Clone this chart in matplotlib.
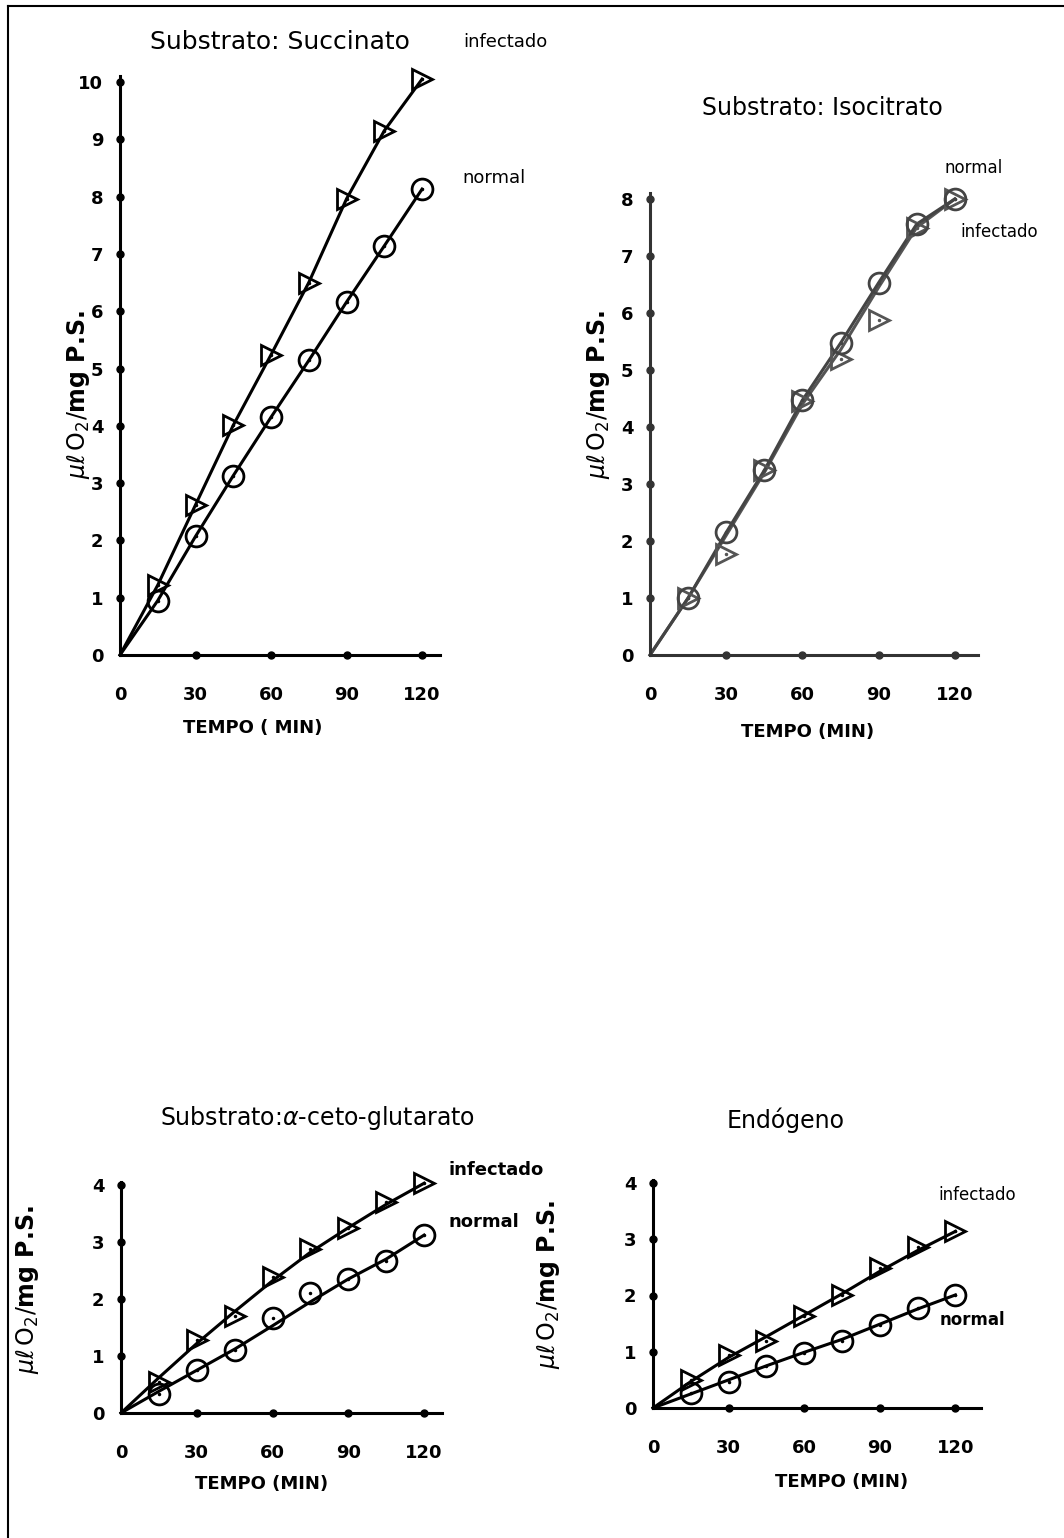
import numpy as np
import matplotlib
matplotlib.use("Agg")
from matplotlib import pyplot as plt
from matplotlib.lines import Line2D

# Figure size in pixels
W, H = 1064, 1538

# Time points (min)
tempo = [0, 15, 30, 45, 60, 75, 90, 105, 120]
xticks = [0, 30, 60, 90, 120]

# Substrato: Succinato
succ_inf = [0, 1.22, 2.62, 4.01, 5.24, 6.5, 7.96, 9.15, 10.05]
succ_norm = [0, 0.95, 2.07, 3.13, 4.15, 5.14, 6.16, 7.14, 8.13]

# Substrato: Isocitrato
iso_norm = [0, 1.0, 2.15, 3.24, 4.47, 5.47, 6.53, 7.56, 8.0]
iso_inf = [0, 1.0, 1.78, 3.24, 4.45, 5.2, 5.88, 7.5, 8.0]
iso_inf_line = [0, 1.0, 2.1, 3.2, 4.4, 5.35, 6.45, 7.5, 8.0]   # drawn line (skips outliers)

# Substrato: alfa-ceto-glutarato
ceto_inf = [0, 0.55, 1.28, 1.7, 2.39, 2.87, 3.25, 3.7, 4.03]
ceto_inf_line = [0, 0.62, 1.22, 1.78, 2.32, 2.82, 3.25, 3.66, 4.03]
ceto_norm = [0, 0.33, 0.75, 1.1, 1.66, 2.1, 2.35, 2.67, 3.12]
ceto_norm_line = [0, 0.38, 0.75, 1.12, 1.53, 1.95, 2.35, 2.7, 3.12]

# Endogeno
endo_inf = [0, 0.5, 0.95, 1.19, 1.63, 2.01, 2.49, 2.87, 3.14]
endo_inf_line = [0, 0.47, 0.9, 1.27, 1.65, 2.03, 2.43, 2.8, 3.14]
endo_norm = [0, 0.27, 0.47, 0.74, 0.98, 1.19, 1.48, 1.78, 2.01]
endo_norm_line = [0, 0.25, 0.5, 0.75, 0.99, 1.22, 1.49, 1.76, 2.01]

YLABEL = r"$\mu\ell\,\mathrm{O_2}/$mg P.S."

fig = plt.figure(figsize=(W / 100, H / 100), dpi=100)


def ptext(x, y, s, **kw):
    # place text using pixel coordinates of the page
    fig.text(x / W, 1 - y / H, s, **kw)


def panel(x0, y0, pxm, pxu, xmax, ymax, yticks, color="black"):
    # x0, y0: pixel position of the origin; pxm, pxu: pixels per minute / per unit
    ax = fig.add_axes([x0 / W, 1 - y0 / H, xmax * pxm / W, ymax * pxu / H])
    ax.set_xlim(0, xmax)
    ax.set_ylim(0, ymax)
    for s in ["top", "right"]:
        ax.spines[s].set_visible(False)
    for s in ["left", "bottom"]:
        ax.spines[s].set_linewidth(2.2)
        ax.spines[s].set_color(color)
    ax.set_xticks(xticks)
    ax.set_yticks(yticks)
    ax.tick_params(length=0, labelsize=13)
    ax.tick_params(axis="x", pad=22)
    ax.tick_params(axis="y", pad=12)
    for lab in ax.get_xticklabels() + ax.get_yticklabels():
        lab.set_fontweight("bold")
    ax.set_facecolor("none")
    # dots along the axes at each tick
    ax.plot(xticks[1:], np.zeros(len(xticks) - 1), "o", color=color, ms=5, clip_on=False, zorder=4)
    ax.plot(np.zeros(len(yticks) - 1), yticks[1:], "o", color=color, ms=5, clip_on=False, zorder=4)
    return ax


def series(ax, y, marker, color="black", line=None):
    if line is None:
        line = y
    ax.plot(tempo, line, color=color, lw=2.2, clip_on=False, zorder=2)
    ax.plot(tempo[1:], y[1:], marker, ms=15, mfc="none", mec=color, mew=2.0,
            clip_on=False, zorder=3)
    ax.plot(tempo[1:], y[1:], ".", ms=3, color=color, clip_on=False, zorder=3)


# --- Panel 1: Succinato
ax1 = panel(120, 655, 2.517, 57.3, 127, 10.1, list(range(0, 11)))
series(ax1, succ_inf, ">")
series(ax1, succ_norm, "o")
ptext(280, 42, "Substrato: Succinato", fontsize=18, ha="center", va="center")
ptext(463, 42, "infectado", fontsize=13, va="center")
ptext(462, 178, "normal", fontsize=13, va="center")
ptext(253, 728, "TEMPO ( MIN)", fontsize=13, fontweight="bold", ha="center", va="center")
ptext(78, 395, YLABEL, fontsize=17, fontweight="bold", rotation=90, ha="center", va="center")

# --- Panel 2: Isocitrato
ax2 = panel(650, 655, 2.54, 57.0, 129, 8.1, list(range(0, 9)), color="#333333")
series(ax2, iso_inf, ">", color="#555555", line=iso_inf_line)
series(ax2, iso_norm, "o", color="#444444")
ptext(822, 108, "Substrato: Isocitrato", fontsize=17, ha="center", va="center")
ptext(945, 168, "normal", fontsize=12, va="center")
ptext(960, 232, "infectado", fontsize=12, va="center")
ptext(808, 732, "TEMPO (MIN)", fontsize=13, fontweight="bold", ha="center", va="center")
ptext(598, 395, YLABEL, fontsize=17, fontweight="bold", rotation=90, ha="center", va="center")

# --- Panel 3: alfa-ceto-glutarato
ax3 = panel(121, 1413, 2.525, 57.0, 127, 4.05, list(range(0, 5)))
series(ax3, ceto_inf, ">", line=ceto_inf_line)
series(ax3, ceto_norm, "o", line=ceto_norm_line)
ptext(318, 1118, r"Substrato:$\alpha$-ceto-glutarato", fontsize=17, ha="center", va="center")
ptext(448, 1170, "infectado", fontsize=13, fontweight="bold", va="center")
ptext(448, 1222, "normal", fontsize=13, fontweight="bold", va="center")
ptext(262, 1484, "TEMPO (MIN)", fontsize=13, fontweight="bold", ha="center", va="center")
ptext(28, 1290, YLABEL, fontsize=17, fontweight="bold", rotation=90, ha="center", va="center")

# --- Panel 4: Endogeno
ax4 = panel(653, 1408, 2.52, 56.25, 130, 4.05, list(range(0, 5)))
series(ax4, endo_inf, ">", line=endo_inf_line)
series(ax4, endo_norm, "o", line=endo_norm_line)
ptext(786, 1120, "Endógeno", fontsize=17, ha="center", va="center")
ptext(938, 1195, "infectado", fontsize=12, va="center")
ptext(940, 1320, "normal", fontsize=12, fontweight="bold", va="center")
ptext(842, 1482, "TEMPO (MIN)", fontsize=13, fontweight="bold", ha="center", va="center")
ptext(548, 1285, YLABEL, fontsize=17, fontweight="bold", rotation=90, ha="center", va="center")

# page frame: left and top edges only
fig.add_artist(Line2D([8 / W, 8 / W], [0, 1 - 6 / H], color="black", lw=1.5, transform=fig.transFigure))
fig.add_artist(Line2D([8 / W, 1], [1 - 6 / H, 1 - 6 / H], color="black", lw=1.5, transform=fig.transFigure))

fig.savefig("out.png", dpi=100)
